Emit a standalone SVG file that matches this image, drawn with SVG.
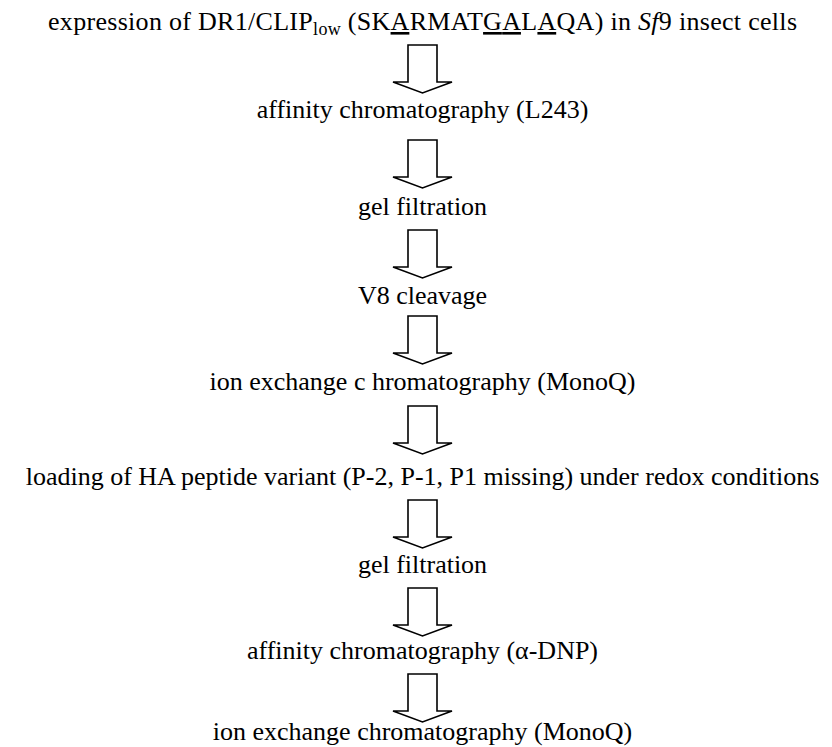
<svg xmlns="http://www.w3.org/2000/svg" width="832" height="747" viewBox="0 0 832 747">
<style>
text{font-family:"Liberation Serif","Times New Roman",serif;font-size:26px;fill:#000;text-anchor:middle}
.arr{fill:#fff;stroke:#000;stroke-width:1.6;stroke-linejoin:miter}
.u{text-decoration:underline}
</style>
<defs>
<path id="arrow" class="arr" d="M408,0 H437 V37 H452 L422.5,48 L393,37 H408 Z"/>
</defs>
<rect width="832" height="747" fill="#fff"/>
<g id="connectors">
<use href="#arrow" y="45"/>
<use href="#arrow" y="140"/>
<use href="#arrow" y="230"/>
<use href="#arrow" y="316"/>
<use href="#arrow" y="406"/>
<use href="#arrow" y="500"/>
<use href="#arrow" y="588"/>
<use href="#arrow" y="674"/>
</g>
<g id="step1"><text x="422.5" y="30" textLength="749" lengthAdjust="spacing">expression of DR1/CLIP<tspan font-size="18" dy="5">low</tspan><tspan dy="-5"> (SK</tspan><tspan class="u">A</tspan>RMAT<tspan class="u">GA</tspan>L<tspan class="u">A</tspan>QA) in <tspan font-style="italic">Sf</tspan>9 insect cells</text></g>
<g id="step2"><text x="422.5" y="118">affinity chromatography (L243)</text></g>
<g id="step3"><text x="422.5" y="215">gel filtration</text></g>
<g id="step4"><text x="422.5" y="304">V8 cleavage</text></g>
<g id="step5"><text x="422.5" y="390">ion exchange c hromatography (MonoQ)</text></g>
<g id="step6"><text x="422.5" y="485">loading of HA peptide variant (P-2, P-1, P1 missing) under redox conditions</text></g>
<g id="step7"><text x="422.5" y="573">gel filtration</text></g>
<g id="step8"><text x="422.5" y="659">affinity chromatography (α-DNP)</text></g>
<g id="step9"><text x="422.5" y="740">ion exchange chromatography (MonoQ)</text></g>
</svg>
